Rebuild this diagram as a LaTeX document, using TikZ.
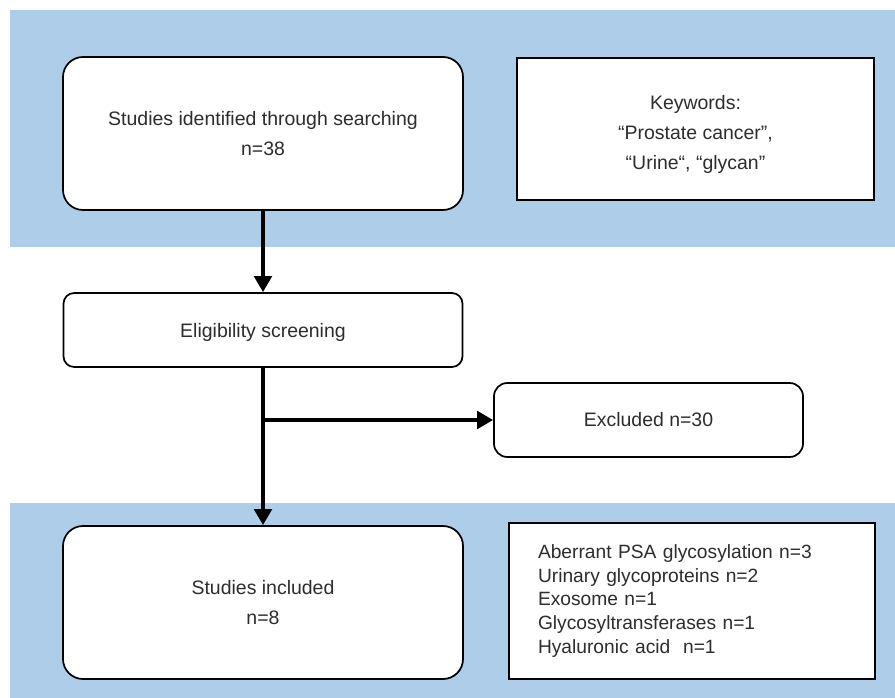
\documentclass[tikz,border=0pt]{standalone}
\usepackage{fontspec}
\setmainfont{Liberation Sans}
\usetikzlibrary{arrows.meta}

\definecolor{bandblue}{RGB}{173,205,233}
\definecolor{txtgray}{RGB}{45,45,45}

\begin{document}
\begin{tikzpicture}[x=0.75pt,y=0.75pt,yscale=-1,xscale=1,
  boxtext/.style={text=txtgray, font=\fontsize{14.6}{22.5}\selectfont},
  bigbox/.style={boxtext, draw, line width=1.3pt, fill=white, rounded corners=15pt, align=center, minimum width=300pt, minimum height=114.75pt},
  smallbox/.style={boxtext, draw, line width=1.3pt, fill=white, rounded corners=8pt, align=center, minimum height=55.5pt},
  notebox/.style={boxtext, draw, line width=1.6pt, fill=white, inner sep=0pt},
  flowarrow/.style={line width=3.6pt, -{Triangle[width=13pt,length=12pt]}}
]
\useasboundingbox (0,0) rectangle (895,698);

%Shape: Rectangle [id:band top] 
\fill [bandblue] (10,10) rectangle (895,247);
%Shape: Rectangle [id:band bottom] 
\fill [bandblue] (10,503) rectangle (895,698);

% Boxes
\node [bigbox] (ident) at (263,133.5) {Studies identified through searching\\n=38};
\node [notebox, align=center, minimum width=267.75pt, minimum height=106.5pt] (keys) at (695.5,129) {\rule{0pt}{19pt}Keywords:\\“Prostate cancer”,\\“Urine“, “glycan”};
\node [smallbox, minimum width=299.25pt] (elig) at (263,330) {\rule{0pt}{14pt}Eligibility screening};
\node [smallbox, minimum width=231.75pt, rounded corners=10pt] (excl) at (648.5,420) {Excluded n=30};
\node [bigbox] (incl) at (263,602.5) {Studies included\\n=8};
\node [notebox, align=left, text width=231pt, inner xsep=21.75pt, minimum height=117pt, font=\fontsize{14.4}{17.7}\selectfont] (topics) at (692,601) {Aberrant PSA glycosylation n=3\\Urinary glycoproteins n=2\\Exosome n=1\\Glycosyltransferases n=1\\Hyaluronic acid~ n=1};

% Arrows
\coordinate (split) at (elig.south |- excl.west);
\draw [flowarrow] (ident) -- (elig);
\draw [flowarrow] (elig) -- (incl);
\draw [flowarrow] (split) -- (excl);

\end{tikzpicture}
\end{document}
